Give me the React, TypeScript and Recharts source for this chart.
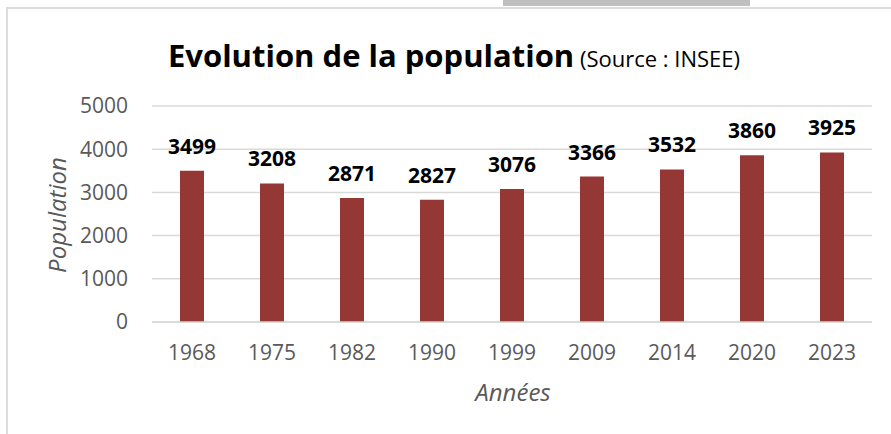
import React from 'react';
import { BarChart, Bar, XAxis, YAxis, CartesianGrid, LabelList } from 'recharts';

const years = ['1968', '1975', '1982', '1990', '1999', '2009', '2014', '2020', '2023'];
const population = [3499, 3208, 2871, 2827, 3076, 3366, 3532, 3860, 3925];
const yTicks = [0, 1000, 2000, 3000, 4000, 5000];

const data = years.map((year, i) => ({ year, population: population[i] }));

const FONT = '"Open Sans", "Noto Sans", sans-serif';
const GREY = '#595959';

const App: React.FC = () => {
    return (
        <div style={{ position: 'absolute', left: 0, top: 0, width: 891, height: 434, background: '#fff', overflow: 'hidden', fontFamily: FONT }}>
            <div style={{ position: 'absolute', left: 503, top: 0, width: 247, height: 6, background: '#bfbfbf' }} />
            <div style={{ position: 'absolute', left: 6, top: 7, width: 920, height: 460, border: '2px solid #dcdcdc' }} />
            <div style={{ position: 'absolute', left: 0, top: 33, width: 908, textAlign: 'center', whiteSpace: 'nowrap', color: '#000', lineHeight: '44px' }}>
                <span style={{ fontSize: 31, fontWeight: 700 }}>Evolution de la population</span>
                <span style={{ fontSize: 22 }}> (Source : INSEE)</span>
            </div>
            <div style={{ position: 'absolute', left: 413, top: 377, width: 200, textAlign: 'center', fontSize: 24, fontStyle: 'italic', color: GREY, lineHeight: '30px' }}>
                Années
            </div>
            <div style={{ position: 'absolute', left: 57 - 100, top: 215 - 15, width: 200, height: 30, textAlign: 'center', fontSize: 24, fontStyle: 'italic', color: GREY, lineHeight: '30px', transform: 'rotate(-90deg)' }}>
                Population
            </div>
            <BarChart
                width={891}
                height={434}
                data={data}
                margin={{ top: 106, right: 19, bottom: 52, left: 0 }}
                barCategoryGap="35%"
                style={{ position: 'absolute', left: 0, top: 0 }}
            >
                <CartesianGrid vertical={false} stroke="#d9d9d9" strokeWidth={1.5} />
                <XAxis
                    dataKey="year"
                    height={60}
                    tickLine={false}
                    tickSize={0}
                    tickMargin={23}
                    axisLine={{ stroke: '#d9d9d9', strokeWidth: 1.5 }}
                    tick={{ fill: GREY, fontSize: 21, fontFamily: FONT }}
                />
                <YAxis
                    width={152}
                    domain={[0, 5000]}
                    ticks={yTicks}
                    tickLine={false}
                    tickSize={0}
                    tickMargin={24}
                    axisLine={false}
                    tick={{ fill: GREY, fontSize: 21, fontFamily: FONT }}
                />
                <Bar dataKey="population" fill="#953735" isAnimationActive={false}>
                    <LabelList dataKey="population" position="top" offset={17} fill="#000" fontSize={21} fontWeight={700} fontFamily={FONT} />
                </Bar>
            </BarChart>
        </div>
    );
};

export default App;
